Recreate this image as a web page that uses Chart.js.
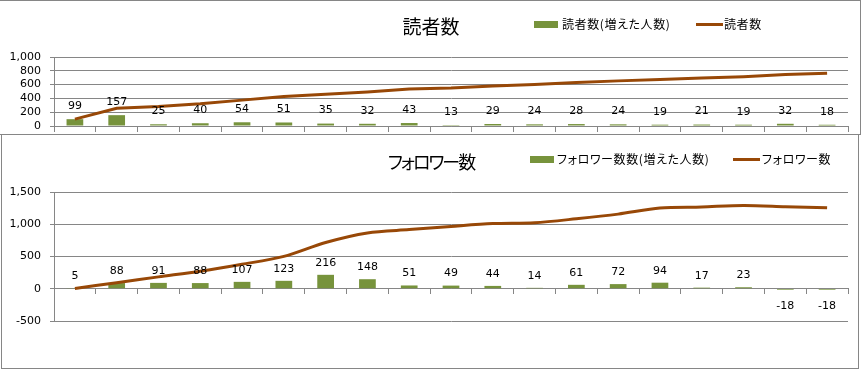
<!DOCTYPE html>
<html>
<head>
<meta charset="utf-8">
<script src="https://cdn.jsdelivr.net/npm/chart.js"></script>
<style>
  body {
    margin: 0;
    width: 863px;
    height: 369px;
    background: #fff;
    position: relative;
    overflow: hidden;
    font-family: "Noto Sans CJK JP", sans-serif;
    font-feature-settings: "palt";
  }
  .frame { position: absolute; box-sizing: border-box; border: 1px solid #868686; background: #fff; }
  .txt { position: absolute; white-space: nowrap; color: #000; }
  .title { font-size: 19px; line-height: 19px; width: 200px; text-align: center; }
  .leg { font-size: 12px; line-height: 12px; letter-spacing: 0.6px; }
  .sw { position: absolute; }
  canvas { position: absolute; left: 0; }
</style>
</head>
<body>
  <div class="frame" style="left:-1px;top:0;width:862px;height:135px;"></div>
  <div class="frame" style="left:1px;top:134px;width:858px;height:235px;"></div>

  <canvas id="chart1" width="863" height="135" style="top:0"></canvas>
  <canvas id="chart2" width="863" height="235" style="top:134px"></canvas>

  <!-- 上のグラフ タイトル・凡例 -->
  <div class="txt title" style="left:331px;top:16px;">読者数</div>
  <div class="sw" style="left:534px;top:21px;width:24px;height:7px;background:#77933C;"></div>
  <div class="txt leg" style="left:562px;top:18px;">読者数(増えた人数)</div>
  <div class="sw" style="left:696px;top:23px;width:27px;height:3px;background:#984807;"></div>
  <div class="txt leg" style="left:724px;top:18px;">読者数</div>

  <!-- 下のグラフ タイトル・凡例 -->
  <div class="txt title" style="left:331px;top:152px;font-size:18px;line-height:18px;letter-spacing:-2px;">フォロワー数</div>
  <div class="sw" style="left:530px;top:156px;width:24px;height:7px;background:#77933C;"></div>
  <div class="txt leg" style="left:557px;top:153px;">フォロワー数数(増えた人数)</div>
  <div class="sw" style="left:733px;top:158px;width:27px;height:3px;background:#984807;"></div>
  <div class="txt leg" style="left:762px;top:153px;">フォロワー数</div>

<script>
  const periods = [1, 2, 3, 4, 5, 6, 7, 8, 9, 10, 11, 12, 13, 14, 15, 16, 17, 18, 19];

  const readerGain = [99, 157, 25, 40, 54, 51, 35, 32, 43, 13, 29, 24, 28, 24, 19, 21, 19, 32, 18];
  const readerTotal = [99, 256, 281, 321, 375, 426, 461, 493, 536, 549, 578, 602, 630, 654, 673, 694, 713, 745, 763];

  const followerGain = [5, 88, 91, 88, 107, 123, 216, 148, 51, 49, 44, 14, 61, 72, 94, 17, 23, -18, -18];
  const followerTotal = [5, 93, 184, 272, 379, 502, 718, 866, 917, 966, 1010, 1024, 1085, 1157, 1251, 1268, 1291, 1273, 1255];

  const GRID = '#868686';
  const BAR = '#77933C';
  const LINE = '#984807';

  // 棒の数値ラベル
  const barLabels = {
    id: 'barLabels',
    afterDatasetsDraw(chart, args, opts) {
      const ctx = chart.ctx;
      const meta = chart.getDatasetMeta(0);
      const values = chart.data.datasets[0].data;
      ctx.save();
      ctx.font = '11px "DejaVu Sans"';
      ctx.fillStyle = '#000';
      ctx.textAlign = 'center';
      ctx.textBaseline = 'middle';
      meta.data.forEach((bar, i) => {
        const v = values[i];
        const y = v >= 0 ? bar.y - opts.above : bar.y + opts.below;
        ctx.fillText(String(v), bar.x, y);
      });
      ctx.restore();
    }
  };

  function fmt(v) {
    return Number(v).toLocaleString('en-US');
  }

  function makeChart(id, gain, total, yMin, yMax, step, pad, tension, labelPos) {
    return new Chart(document.getElementById(id), {
      type: 'bar',
      data: {
        labels: periods,
        datasets: [
          {
            type: 'bar',
            data: gain,
            backgroundColor: BAR,
            barPercentage: 0.4,
            categoryPercentage: 1,
            order: 2
          },
          {
            type: 'line',
            data: total,
            borderColor: LINE,
            borderWidth: 3,
            pointRadius: 0,
            tension: tension,
            fill: false,
            order: 1
          }
        ]
      },
      options: {
        responsive: false,
        devicePixelRatio: 1,
        animation: false,
        layout: { padding: pad },
        plugins: {
          legend: { display: false },
          tooltip: { enabled: false },
          barLabels: labelPos
        },
        scales: {
          x: {
            position: { y: 0 },
            ticks: { display: false },
            grid: { drawOnChartArea: false, drawTicks: true, tickLength: 5, color: GRID, offset: true },
            border: { color: GRID }
          },
          y: {
            min: yMin,
            max: yMax,
            ticks: {
              stepSize: step,
              autoSkip: false,
              padding: 9,
              color: '#000',
              font: { family: 'DejaVu Sans', size: 11 },
              callback: (v) => fmt(v)
            },
            grid: { color: GRID, tickLength: 4 },
            border: { color: GRID },
            afterFit: (s) => {
              s.width = 54;
              s.paddingTop = 0;
              s.paddingBottom = 0;
            }
          }
        }
      },
      plugins: [barLabels]
    });
  }

  makeChart('chart1', readerGain, readerTotal, 0, 1000, 200,
    { top: 57, right: 15, bottom: 9, left: 0 },
    0,
    { above: 13, below: 15 });

  makeChart('chart2', followerGain, followerTotal, -500, 1500, 500,
    { top: 58, right: 15, bottom: 48, left: 0 },
    0.3,
    { above: 12, below: 16 });
</script>
</body>
</html>
